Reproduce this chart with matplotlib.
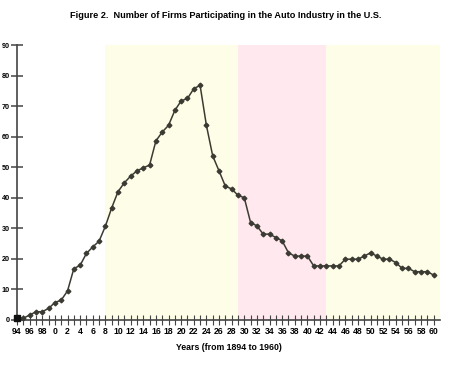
import matplotlib
matplotlib.use("Agg")
import matplotlib.pyplot as plt
from matplotlib.ticker import FixedLocator, FuncFormatter

years = list(range(1894, 1961))
firms = [0.5, 0.6, 1.6, 2.7, 2.7, 3.8, 5.7, 6.5, 9.5, 16.8,
         17.9, 21.8, 23.9, 25.8, 30.7, 36.7, 42.0, 44.9, 47.1, 48.8,
         49.8, 50.7, 58.6, 61.5, 63.7, 68.6, 71.7, 72.5, 75.7, 76.8,
         63.7, 53.7, 48.8, 43.8, 42.9, 40.8, 40.0, 31.9, 30.8, 28.1,
         28.1, 27.0, 25.9, 22.0, 20.9, 20.9, 20.9, 17.7, 17.7, 17.7,
         17.7, 17.7, 19.9, 19.9, 19.9, 20.9, 22.0, 20.9, 19.9, 19.9,
         18.8, 16.9, 16.9, 15.8, 15.8, 15.8, 14.7]

period_starts = [1908, 1929, 1943]
period_ends = [1929, 1943, 1961]
period_colors = ["#fefee8", "#ffe8ee", "#fefee8"]

y_ticks = [0, 10, 20, 30, 40, 50, 60, 70, 80, 90]
x_label_years = list(range(1894, 1961, 2))

title = "Figure 2.  Number of Firms Participating in the Auto Industry in the U.S."
xlabel = "Years (from 1894 to 1960)"

plt.rcParams['font.family'] = ['Liberation Sans', 'DejaVu Sans']
plt.rcParams['font.weight'] = 'bold'

fig = plt.figure(figsize=(4.6, 3.84), dpi=100)
ax = fig.add_axes([17/460, 64/384, 423/460, 275/384])

for s, e, c in zip(period_starts, period_ends, period_colors):
    ax.axvspan(s, e, color=c, lw=0, zorder=0)

line_color = "#3b3b33"
ax.plot(years, firms, color=line_color, lw=1.1, marker="D", ms=2.4,
        mfc=line_color, mec=line_color, zorder=3, clip_on=False)
ax.plot(years[:1], firms[:1], marker="s", ms=4, color="#111111",
        lw=0, zorder=4, clip_on=False)

ax.set_xlim(1894, 1961)
ax.set_ylim(0, 90)

for side in ("top", "right"):
    ax.spines[side].set_visible(False)
for side in ("left", "bottom"):
    ax.spines[side].set_color("#444444")
    ax.spines[side].set_linewidth(1.2)

ax.yaxis.set_major_locator(FixedLocator(y_ticks))
ax.tick_params(axis="y", direction="inout", length=9, width=1.1,
               color="#444444", pad=0.8, labelsize=5.2)

ax.xaxis.set_major_locator(FixedLocator(x_label_years))
ax.xaxis.set_minor_locator(FixedLocator(years))
ax.xaxis.set_major_formatter(FuncFormatter(lambda v, p: str(int(round(v)) % 100)))
ax.tick_params(axis="x", which="both", direction="inout", length=7,
               width=0.8, color="#444444", pad=1.5, labelsize=6.2)

ax.set_xlabel(xlabel, fontsize=6.3, fontweight="bold", labelpad=5)
fig.text(0.49, 1 - 16/384, title, ha="center", va="center",
         fontsize=6.6, fontweight="bold")

fig.savefig("out.png", dpi=100)
